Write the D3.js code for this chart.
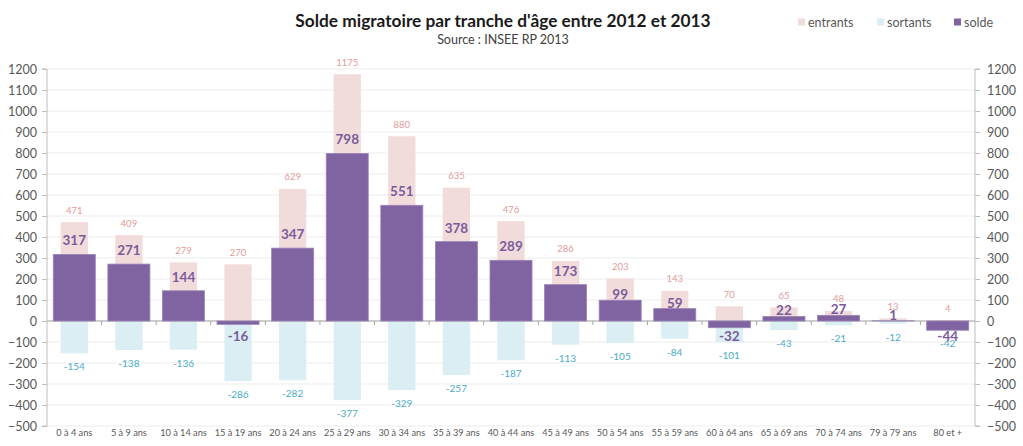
<!DOCTYPE html>
<html>
<head>
<meta charset="utf-8">
<script src="https://cdn.jsdelivr.net/npm/d3@7"></script>
<style>
  html, body { margin: 0; padding: 0; background: #fff; }
  svg { display: block; font-family: Lato, "Open Sans", sans-serif; }
</style>
</head>
<body>
<svg id="chart" width="1023" height="446"></svg>
<script>
// Age groups
const categories = ["0 à 4 ans", "5 à 9 ans", "10 à 14 ans", "15 à 19 ans", "20 à 24 ans",
  "25 à 29 ans", "30 à 34 ans", "35 à 39 ans", "40 à 44 ans", "45 à 49 ans", "50 à 54 ans",
  "55 à 59 ans", "60 à 64 ans", "65 à 69 ans", "70 à 74 ans", "79 à 79 ans", "80 et +"];
// Arrivals, departures and net balance
const entrants = [471, 409, 279, 270, 629, 1175, 880, 635, 476, 286, 203, 143, 70, 65, 48, 13, 4];
const sortants = [-154, -138, -136, -286, -282, -377, -329, -257, -187, -113, -105, -84, -101, -43, -21, -12, -42];
const solde = [317, 271, 144, -16, 347, 798, 551, 378, 289, 173, 99, 59, -32, 22, 27, 1, -44];
const yTicks = [-500, -400, -300, -200, -100, 0, 100, 200, 300, 400, 500, 600, 700, 800, 900, 1000, 1100, 1200];
const legendItems = ["entrants", "sortants", "solde"];

const colors = {
  entrants: "#f2dcdb", sortants: "#daeef3", solde: "#8064a2",
  entrantsText: "#e29c9a", sortantsText: "#4bacc6", soldeText: "#7a5c9c"
};

const svg = d3.select("#chart");
const plotL = 47, plotR = 975, plotT = 69, plotB = 426;

const x = d3.scaleBand().domain(categories).range([plotL, plotR]);
const y = d3.scaleLinear().domain([-500, 1200]).range([plotB, plotT]);

// Gridlines
svg.append("g").selectAll("line").data(yTicks).join("line")
  .attr("x1", plotL).attr("x2", plotR)
  .attr("y1", d => y(d)).attr("y2", d => y(d))
  .attr("stroke", "#ededed").attr("stroke-width", 1);

// Axes
const fmt = d3.format("d");
const yLeft = d3.axisLeft(y).tickValues(yTicks).tickFormat(fmt).tickSize(5).tickPadding(5);
const yRight = d3.axisRight(y).tickValues(yTicks).tickFormat(fmt).tickSize(5).tickPadding(7);
function styleAxis(g) {
  g.select(".domain").attr("stroke", "#bfbfbf");
  g.selectAll(".tick line").attr("stroke", "#bfbfbf");
  g.selectAll(".tick text").attr("fill", "#595959").style("font-size", "12.5px")
    .style("font-family", "Lato, sans-serif");
}
svg.append("g").attr("transform", `translate(${plotL},0)`).call(yLeft).call(styleAxis)
  .call(g => g.select(".domain").attr("d", `M-5,${plotT}H0V${plotB}H-5`));
svg.append("g").attr("transform", `translate(${plotR},0)`).call(yRight).call(styleAxis)
  .call(g => g.select(".domain").attr("d", `M5,${plotT}H0V${plotB}H5`));

const thinW = x.bandwidth() * 0.5;
const wideW = x.bandwidth() * 0.77;

// Arrivals and departures (narrow, behind)
svg.append("g").selectAll("rect").data(entrants).join("rect")
  .attr("x", (d, i) => x(categories[i]) + (x.bandwidth() - thinW) / 2)
  .attr("width", thinW)
  .attr("y", d => y(Math.max(0, d)))
  .attr("height", d => Math.abs(y(d) - y(0)))
  .attr("fill", colors.entrants);
svg.append("g").selectAll("rect").data(sortants).join("rect")
  .attr("x", (d, i) => x(categories[i]) + (x.bandwidth() - thinW) / 2)
  .attr("width", thinW)
  .attr("y", d => y(Math.max(0, d)))
  .attr("height", d => Math.abs(y(d) - y(0)))
  .attr("fill", colors.sortants);

// Zero line with category ticks
svg.append("line").attr("x1", plotL).attr("x2", plotR)
  .attr("y1", y(0)).attr("y2", y(0)).attr("stroke", "#a6a6a6");
svg.append("g").selectAll("line").data(categories.slice(1)).join("line")
  .attr("x1", d => x(d)).attr("x2", d => x(d))
  .attr("y1", y(0)).attr("y2", y(0) + 4).attr("stroke", "#a6a6a6");

// Net balance (wide, front)
svg.append("g").selectAll("rect").data(solde).join("rect")
  .attr("x", (d, i) => x(categories[i]) + (x.bandwidth() - wideW) / 2)
  .attr("width", wideW)
  .attr("y", d => y(Math.max(0, d)))
  .attr("height", d => Math.abs(y(d) - y(0)))
  .attr("fill", colors.solde)
  .attr("stroke", "#9b84b7").attr("stroke-width", 0.8);

const cx = i => x(categories[i]) + x.bandwidth() / 2;

// Value labels
svg.append("g").selectAll("text").data(entrants).join("text")
  .attr("x", (d, i) => cx(i)).attr("y", d => y(d) - 12)
  .attr("text-anchor", "middle").attr("dominant-baseline", "central")
  .attr("fill", colors.entrantsText).style("font-size", "9.5px")
  .text(d => d);
svg.append("g").selectAll("text").data(sortants).join("text")
  .attr("x", (d, i) => cx(i)).attr("y", d => y(d) + 13)
  .attr("text-anchor", "middle").attr("dominant-baseline", "central")
  .attr("fill", colors.sortantsText).style("font-size", "10px")
  .text(d => d);
svg.append("g").selectAll("text").data(solde).join("text")
  .attr("x", (d, i) => cx(i))
  .attr("y", d => d >= 0 ? y(d) - (d >= 100 ? 14 : 6) : y(0) + 15)
  .attr("text-anchor", "middle").attr("dominant-baseline", "central")
  .attr("fill", colors.soldeText).style("font-size", "13.5px").style("font-weight", "bold")
  .text(d => d);

// Category labels
svg.append("g").selectAll("text").data(categories).join("text")
  .attr("x", (d, i) => cx(i)).attr("y", 432)
  .attr("text-anchor", "middle").attr("dominant-baseline", "central")
  .attr("fill", "#595959").style("font-size", "9.2px")
  .text(d => d);

// Title
svg.append("text").attr("x", 503).attr("y", 20)
  .attr("text-anchor", "middle").attr("dominant-baseline", "central")
  .attr("fill", "#1a1a1a").style("font-size", "17.3px").style("font-weight", "bold")
  .text("Solde migratoire par tranche d'âge entre 2012 et 2013");
svg.append("text").attr("x", 503).attr("y", 39)
  .attr("text-anchor", "middle").attr("dominant-baseline", "central")
  .attr("fill", "#404040").style("font-size", "12.5px")
  .text("Source : INSEE RP 2013");

// Legend
const legendX = [798, 877, 954];
const legendColors = [colors.entrants, colors.sortants, colors.solde];
const lg = svg.append("g").selectAll("g").data(legendItems).join("g")
  .attr("transform", (d, i) => `translate(${legendX[i]},22)`);
lg.append("rect").attr("x", 0).attr("y", -3.5).attr("width", 7).attr("height", 7)
  .attr("fill", (d, i) => legendColors[i]);
lg.append("text").attr("x", 10).attr("y", 0).attr("dominant-baseline", "central")
  .attr("fill", "#595959").style("font-size", "12.5px").text(d => d);
</script>
</body>
</html>
